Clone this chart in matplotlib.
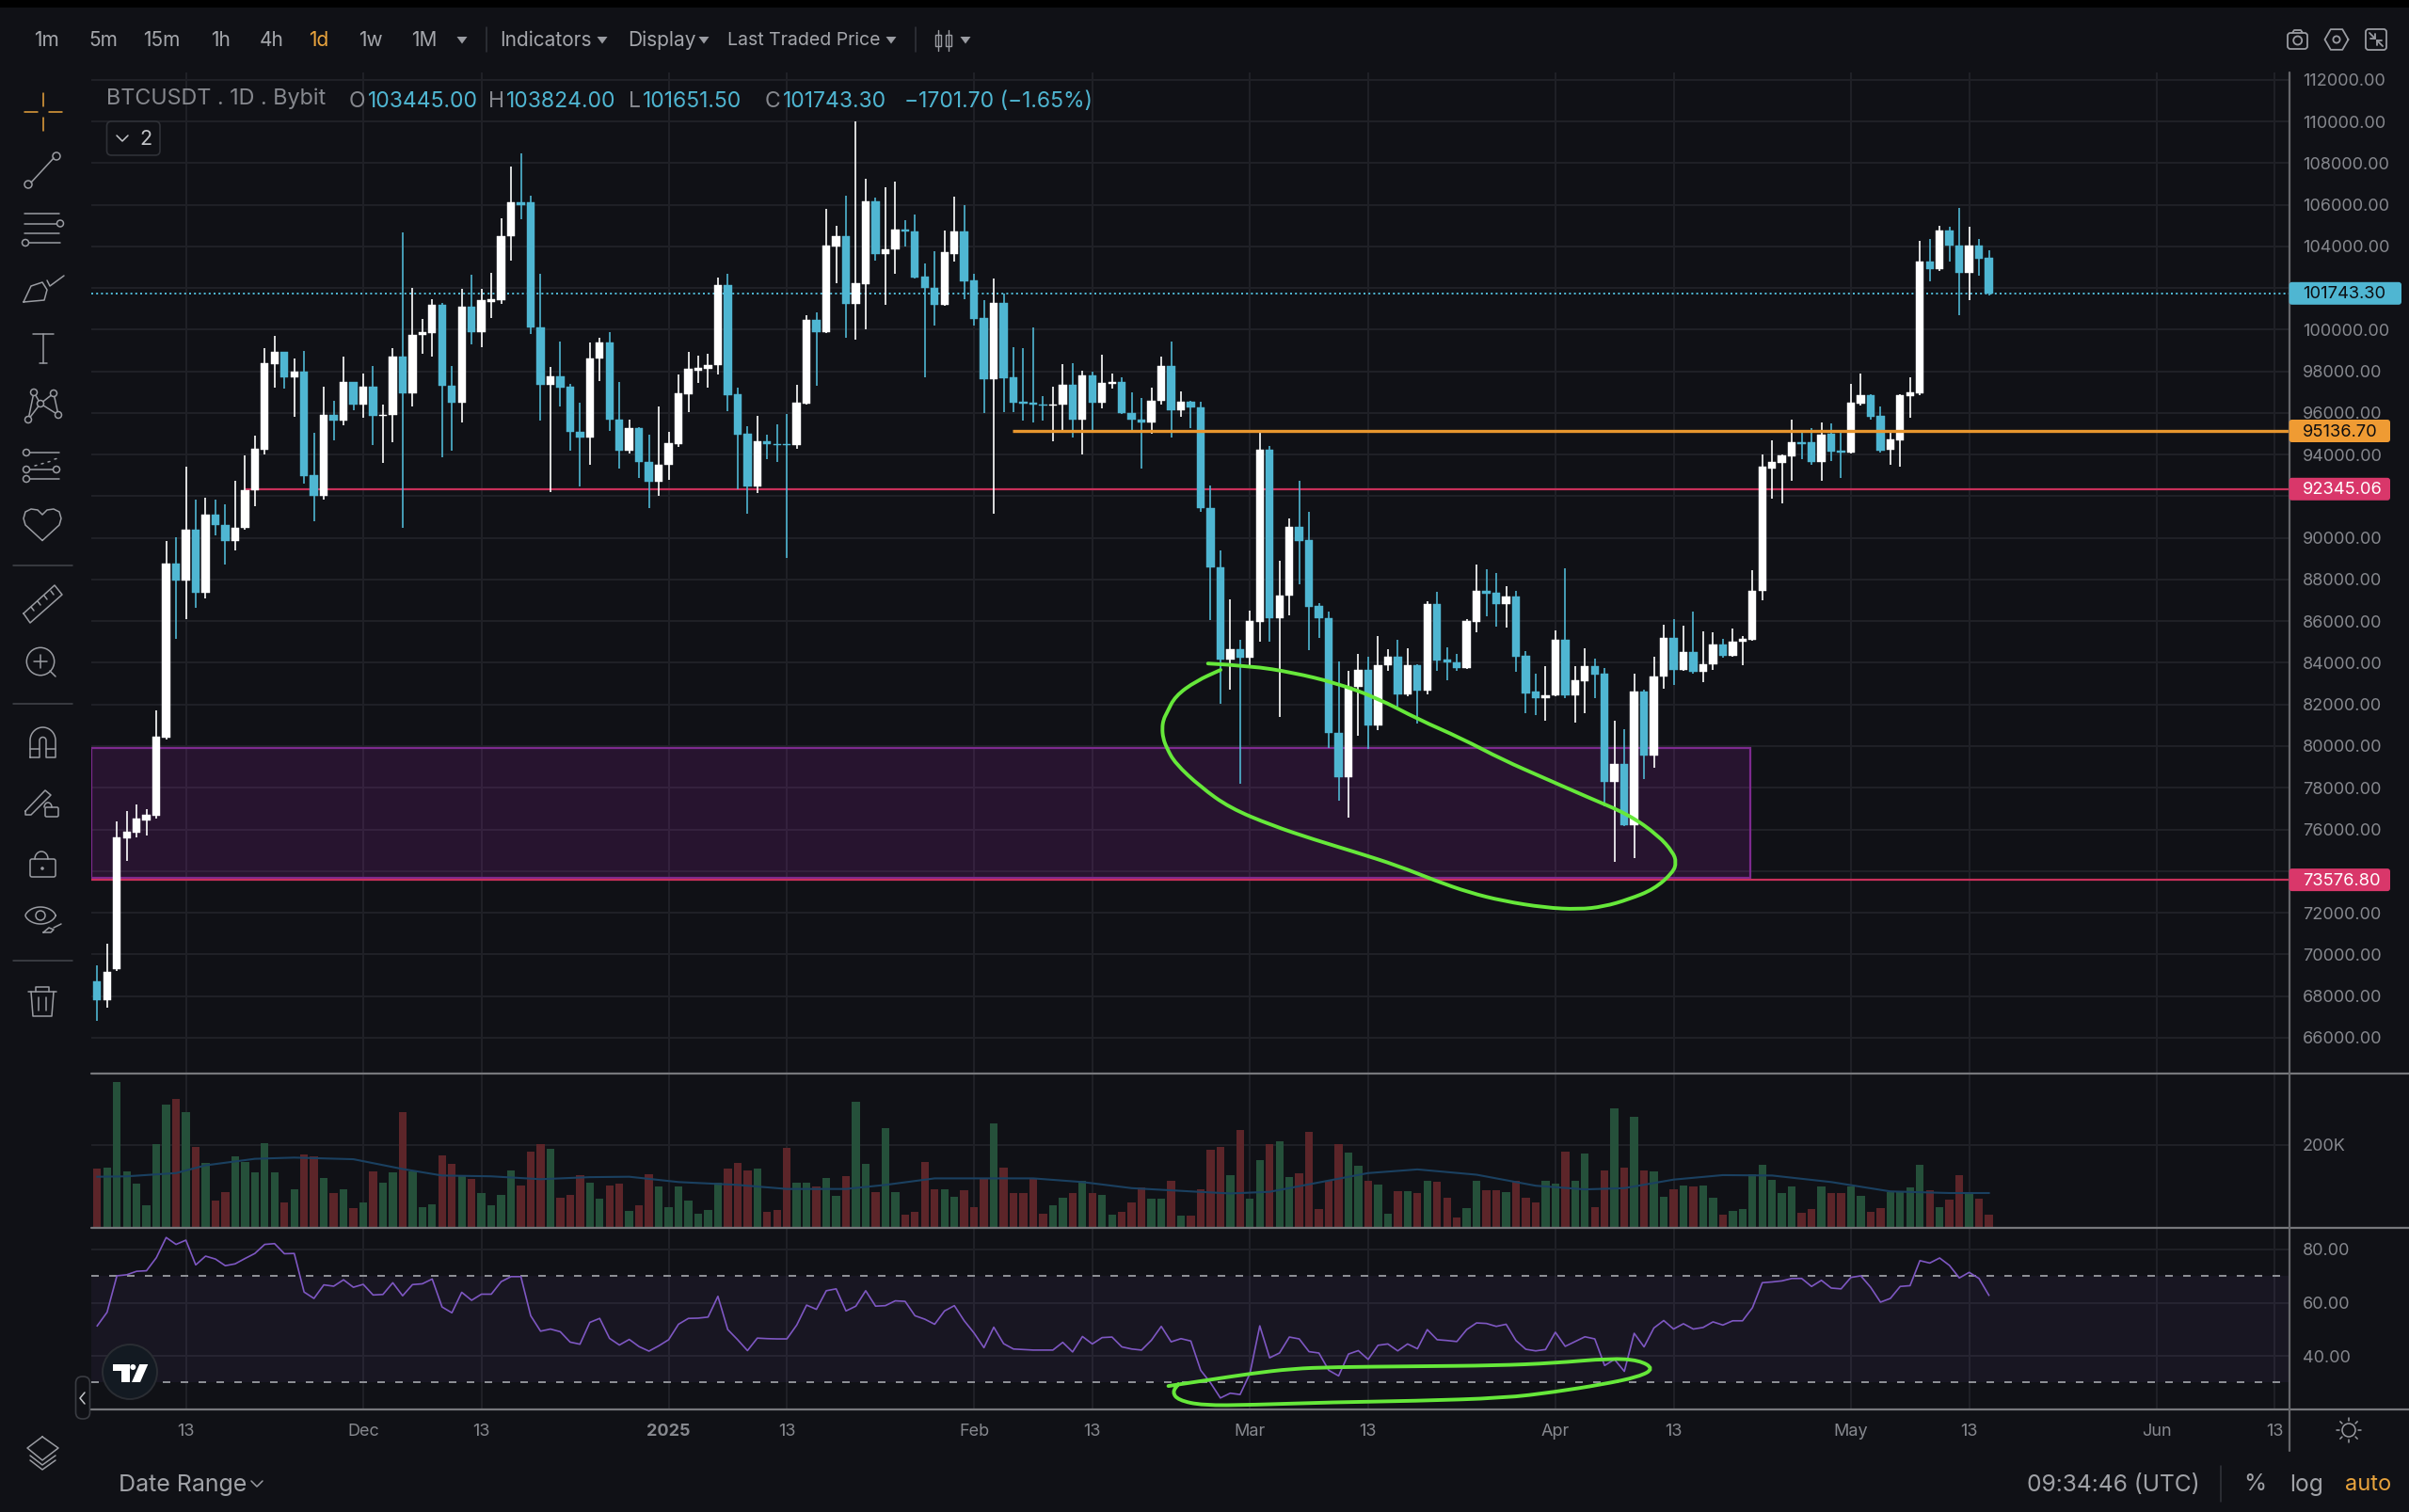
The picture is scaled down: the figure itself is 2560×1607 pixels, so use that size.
"""
BTCUSDT daily chart, Bybit terminal screenshot style.
Candles, volume with its moving average, RSI, level lines and hand drawn rings.
"""

import matplotlib
matplotlib.use("Agg")
import matplotlib.pyplot as plt
import numpy as np
from matplotlib.patches import Circle, FancyBboxPatch, PathPatch, Polygon, Rectangle
from matplotlib.path import Path

plt.rcParams["font.family"] = ["Inter", "DejaVu Sans"]

W, H = 2560, 1607

BG = "#101116"
GRID = "#1f2026"
LABEL = "#86888e"
ICON = "#9a9ca2"
UP = "#ffffff"
DOWN = "#4fb6d2"
ORANGE = "#ef9b33"
PINK = "#d9376a"
GREEN_INK = "#66e83a"

# Thousands of USD, one candle a day from 2024-11-04
opens = [
    68.7, 67.8, 69.3, 75.55, 75.85, 76.45, 76.65, 80.4, 88.75, 87.95,
    90.4, 87.35, 91.1, 90.6, 89.85, 90.5, 92.3, 94.25, 98.35, 98.95,
    97.7, 98.0, 93.0, 92.0, 95.9, 95.65, 97.5, 96.4, 97.25, 95.85,
    95.9, 98.7, 96.95, 99.75, 99.85, 101.2, 97.3, 96.5, 101.1, 99.9,
    101.35, 101.4, 104.5, 106.1, 106.1, 100.1, 97.35, 97.75, 97.25, 95.1,
    94.8, 98.6, 99.4, 95.7, 94.2, 95.25, 93.65, 92.7, 93.5, 94.5,
    96.9, 98.05, 98.1, 98.3, 102.15, 96.9, 95.0, 92.45, 94.65, 94.5,
    94.5, 94.45, 96.45, 100.45, 99.9, 104.0, 104.5, 101.25, 102.2, 106.15,
    103.65, 103.85, 104.8, 104.7, 102.55, 102.0, 101.2, 103.65, 104.7, 102.35,
    100.55, 97.6, 101.3, 97.7, 96.55, 96.5, 96.4, 96.35, 96.4, 97.35,
    95.7, 97.8, 96.5, 97.4, 97.5, 96.0, 95.7, 95.55, 96.6, 98.25,
    96.15, 96.55, 96.25, 91.45, 88.6, 84.15, 84.65, 84.25, 85.95, 94.25,
    86.15, 87.25, 90.55, 89.9, 86.75, 86.15, 80.65, 78.5, 82.85, 83.65,
    81.0, 83.9, 84.3, 82.5, 83.9, 82.65, 86.8, 84.15, 84.0, 83.75,
    85.95, 87.45, 87.35, 86.8, 87.2, 84.35, 82.6, 82.3, 82.45, 85.1,
    82.45, 83.1, 83.85, 83.5, 78.3, 79.15, 76.2, 82.6, 79.55, 83.35,
    85.2, 83.65, 84.5, 83.55, 83.95, 84.9, 84.35, 85.0, 85.1, 87.45,
    93.35, 93.6, 93.9, 94.6, 94.6, 93.65, 95.0, 94.2, 94.1, 96.45,
    96.85, 95.85, 94.25, 94.7, 96.8, 96.95, 103.25, 102.9, 104.75, 104.05,
    102.75, 104.05, 103.445,
]
closes = [
    67.8, 69.15, 75.6, 75.9, 76.5, 76.7, 80.45, 88.75, 87.95, 90.4,
    87.35, 91.1, 90.6, 89.85, 90.5, 92.3, 94.3, 98.4, 98.95, 97.7,
    98.0, 92.95, 92.0, 95.9, 95.65, 97.5, 96.4, 97.25, 95.85, 95.9,
    98.7, 96.95, 99.75, 99.9, 101.2, 97.3, 96.5, 101.1, 99.9, 101.4,
    101.45, 104.5, 106.1, 106.0, 100.1, 97.35, 97.75, 97.2, 95.1, 94.8,
    98.6, 99.4, 95.7, 94.2, 95.25, 93.65, 92.7, 93.5, 94.55, 96.95,
    98.1, 98.15, 98.3, 102.15, 96.85, 94.95, 92.45, 94.65, 94.5, 94.45,
    94.45, 96.5, 100.45, 99.9, 104.05, 104.5, 101.25, 102.25, 106.15, 103.65,
    103.85, 104.8, 104.7, 102.5, 102.0, 101.2, 103.7, 104.7, 102.3, 100.5,
    97.6, 101.3, 97.65, 96.5, 96.45, 96.4, 96.35, 96.4, 97.35, 95.7,
    97.8, 96.5, 97.45, 97.5, 96.0, 95.7, 95.55, 96.6, 98.25, 96.15,
    96.55, 96.25, 91.45, 88.6, 84.15, 84.65, 84.25, 86.0, 94.25, 86.15,
    87.25, 90.55, 89.85, 86.7, 86.15, 80.65, 78.5, 82.85, 83.65, 81.0,
    83.9, 84.3, 82.5, 83.9, 82.65, 86.8, 84.1, 84.0, 83.75, 86.0,
    87.45, 87.3, 86.8, 87.2, 84.3, 82.55, 82.3, 82.45, 85.1, 82.45,
    83.15, 83.85, 83.45, 78.3, 79.15, 76.2, 82.6, 79.55, 83.35, 85.2,
    83.65, 84.5, 83.55, 83.95, 84.9, 84.35, 85.0, 85.15, 87.45, 93.4,
    93.65, 93.95, 94.6, 94.5, 93.65, 94.95, 94.15, 94.1, 96.5, 96.85,
    95.8, 94.2, 94.75, 96.85, 97.0, 103.25, 102.9, 104.75, 104.05, 102.75,
    104.05, 103.4, 101.7433,
]
highs = [
    69.45, 70.5, 76.4, 76.9, 77.2, 76.95, 81.7, 89.85, 90.05, 93.4,
    91.85, 91.95, 91.85, 91.6, 92.75, 93.95, 94.9, 99.1, 99.7, 98.95,
    98.6, 99.0, 95.05, 97.25, 96.6, 98.7, 97.5, 97.9, 98.25, 96.4,
    99.1, 104.65, 102.0, 100.5, 101.45, 101.3, 98.25, 101.95, 102.65, 101.95,
    102.75, 105.35, 107.85, 108.45, 106.45, 102.7, 98.2, 99.45, 97.4, 96.5,
    99.4, 99.6, 99.9, 97.5, 95.7, 95.3, 94.95, 96.3, 95.1, 97.85,
    98.95, 98.75, 98.85, 102.5, 102.7, 97.2, 95.35, 95.85, 94.95, 95.45,
    95.95, 97.35, 100.7, 100.85, 105.8, 105.0, 106.45, 110.0, 107.25, 106.35,
    106.85, 107.1, 105.25, 105.55, 103.2, 103.75, 104.75, 106.4, 106.0, 102.7,
    101.4, 102.45, 101.75, 99.15, 99.1, 100.1, 96.8, 97.25, 98.35, 98.4,
    98.05, 98.0, 98.8, 97.9, 97.7, 97.0, 96.7, 97.2, 98.7, 99.45,
    97.05, 96.6, 96.55, 92.5, 89.4, 87.05, 85.1, 86.5, 95.05, 94.4,
    88.9, 90.95, 92.75, 91.25, 86.85, 86.45, 84.05, 83.6, 84.45, 84.3,
    85.3, 84.65, 85.1, 84.7, 83.95, 86.95, 87.4, 84.75, 84.45, 86.1,
    88.7, 88.5, 88.3, 87.7, 87.45, 84.55, 83.5, 83.85, 85.55, 88.55,
    83.85, 84.7, 84.2, 83.75, 81.2, 80.8, 83.5, 82.7, 84.3, 85.85,
    86.1, 85.8, 86.45, 85.5, 85.45, 85.15, 85.65, 85.3, 88.45, 94.0,
    94.7, 94.0, 95.7, 95.1, 95.25, 95.55, 95.5, 95.2, 97.4, 97.9,
    96.9, 96.3, 95.15, 96.9, 97.7, 104.25, 104.35, 105.0, 104.95, 105.85,
    104.95, 104.35, 103.824,
]
lows = [
    66.8, 67.45, 69.2, 74.5, 75.6, 75.7, 76.5, 80.3, 85.15, 86.1,
    86.65, 87.1, 90.1, 88.7, 89.4, 90.4, 91.5, 94.0, 97.2, 97.15,
    95.8, 92.6, 90.8, 91.85, 94.7, 95.4, 96.15, 95.75, 94.45, 93.6,
    94.6, 90.5, 96.3, 98.85, 98.7, 93.85, 94.2, 95.55, 99.3, 99.15,
    100.55, 101.25, 103.3, 105.3, 99.8, 95.65, 92.2, 96.3, 94.2, 92.45,
    93.5, 97.55, 95.15, 93.35, 94.05, 92.9, 91.45, 92.0, 92.8, 94.35,
    96.05, 97.45, 97.2, 97.85, 96.1, 92.35, 91.15, 92.15, 93.8, 93.65,
    89.05, 94.3, 96.4, 97.3, 99.85, 102.25, 99.6, 99.5, 100.0, 103.3,
    101.2, 102.7, 104.0, 102.45, 97.7, 100.2, 101.15, 103.25, 101.45, 100.2,
    96.0, 91.15, 96.05, 96.05, 95.65, 95.55, 95.65, 94.65, 95.15, 94.8,
    94.0, 95.15, 96.2, 97.15, 95.95, 95.15, 93.35, 95.0, 96.4, 94.8,
    95.8, 95.25, 91.25, 86.05, 82.05, 82.7, 78.2, 83.75, 85.0, 85.0,
    81.4, 86.3, 87.75, 84.6, 85.2, 79.9, 77.4, 76.55, 80.5, 79.85,
    80.75, 83.6, 81.9, 82.4, 81.1, 82.5, 83.6, 83.15, 83.6, 83.7,
    85.45, 86.25, 85.75, 85.7, 83.55, 81.6, 81.5, 81.2, 82.4, 82.3,
    81.15, 81.6, 82.3, 77.1, 74.45, 76.15, 74.6, 78.4, 78.95, 82.75,
    82.95, 83.6, 83.5, 83.05, 83.65, 84.25, 84.3, 83.9, 85.05, 87.0,
    91.9, 91.65, 92.75, 93.8, 93.5, 92.75, 93.7, 92.9, 94.05, 96.35,
    95.7, 94.1, 93.5, 93.4, 95.75, 96.85, 102.3, 102.8, 103.25, 100.7,
    101.4, 102.6, 101.6515,
]

# Thousands of contracts
volumes = [
    141, 144, 354, 136, 104, 53, 203, 300, 312, 280,
    195, 157, 63, 85, 173, 159, 132, 205, 133, 58,
    91, 177, 173, 118, 83, 92, 45, 58, 135, 107,
    132, 281, 135, 48, 55, 175, 153, 123, 116, 83,
    53, 78, 137, 101, 183, 201, 191, 71, 77, 125,
    107, 68, 101, 105, 38, 53, 129, 99, 48, 97,
    63, 32, 40, 108, 141, 157, 137, 141, 35, 40,
    192, 107, 107, 98, 118, 75, 123, 305, 153, 85,
    241, 85, 30, 35, 159, 92, 92, 72, 88, 48,
    120, 254, 145, 83, 83, 120, 31, 53, 71, 81,
    112, 83, 78, 28, 35, 58, 95, 67, 67, 113,
    26, 26, 91, 189, 195, 127, 237, 67, 163, 201,
    210, 121, 131, 231, 42, 112, 201, 181, 148, 112,
    102, 32, 86, 86, 83, 113, 109, 71, 23, 45,
    111, 88, 88, 85, 112, 71, 58, 111, 104, 183,
    113, 178, 47, 137, 289, 145, 268, 138, 135, 72,
    91, 100, 98, 101, 71, 29, 39, 42, 128, 152,
    115, 82, 98, 33, 42, 98, 83, 83, 98, 75,
    36, 46, 85, 85, 95, 152, 88, 48, 65, 125,
    85, 68, 28,
]
vol_ma_idx = [
    0, 3, 8, 11, 16, 20, 26, 31, 35, 40, 45, 50, 54, 59, 65, 70, 76, 80, 85, 90,
    95, 100, 105, 111, 115, 119, 124, 129, 134, 140, 146, 151, 155, 160, 165,
    170, 176, 182, 188, 192,
]
vol_ma = [
    122, 123, 131, 150, 166, 169, 165, 141, 125, 123, 116, 121, 122, 109, 102, 92,
    92, 102, 118, 118, 118, 109, 94, 86, 81, 85, 108, 131, 140, 127, 100, 91, 94,
    115, 126, 125, 109, 86, 82, 82,
]

rsi = [
    51.3, 56.4, 70.1, 70.5, 71.8, 72.0, 76.9, 84.5, 81.9, 83.5,
    74.2, 77.5, 76.4, 73.9, 74.6, 76.6, 78.5, 81.9, 82.2, 78.4,
    78.5, 64.0, 61.6, 66.7, 66.2, 68.6, 65.8, 66.9, 62.9, 63.1,
    67.5, 62.6, 66.8, 67.1, 68.9, 58.4, 56.2, 63.9, 60.9, 63.2,
    63.2, 67.9, 69.8, 69.8, 55.1, 49.3, 50.1, 49.1, 45.2, 44.4,
    52.6, 54.1, 46.6, 44.1, 46.2, 43.5, 41.8, 43.8, 46.1, 51.9,
    54.1, 54.2, 54.6, 62.4, 49.9, 46.1, 42.0, 46.7, 46.5, 46.4,
    46.4, 51.6, 59.1, 57.5, 64.5, 65.2, 56.9, 58.7, 64.5, 58.7,
    58.9, 60.7, 60.5, 55.1, 53.8, 51.9, 56.9, 58.9, 53.2, 48.6,
    43.1, 50.8, 44.6, 42.6, 42.4, 42.2, 42.2, 42.2, 45.1, 41.5,
    47.3, 44.5, 46.9, 47.1, 43.4, 42.6, 42.2, 45.9, 51.1, 45.3,
    46.5, 45.6, 34.6, 29.9, 24.2, 26.0, 25.5, 33.4, 51.3, 39.3,
    41.1, 47.1, 46.4, 41.6, 41.1, 34.6, 32.5, 40.7, 42.0, 38.7,
    44.0, 44.5, 41.9, 44.5, 42.7, 49.9, 46.1, 45.8, 45.4, 49.9,
    52.4, 52.2, 51.1, 51.9, 45.8, 42.5, 41.9, 42.4, 48.9, 43.6,
    45.4, 47.2, 46.4, 36.4, 38.7, 34.2, 48.5, 43.4, 50.5, 53.3,
    50.1, 52.1, 50.1, 50.7, 52.8, 51.6, 53.2, 53.2, 58.1, 67.5,
    67.8, 68.2, 69.1, 69.1, 66.1, 68.4, 65.5, 65.2, 69.5, 70.1,
    65.8, 60.2, 61.6, 66.1, 66.4, 75.8, 74.9, 76.8, 74.0, 69.3,
    71.4, 69.1, 62.8,
]

price_ticks = list(range(66000, 112001, 2000))
# these two sit right behind the level tags in the original
hidden_price_ticks = {74000, 92000}
vol_ticks = [200]
vol_tick_labels = ["200K"]
rsi_ticks = [40, 60, 80]
date_tick_idx = [9, 27, 39, 58, 70, 89, 101, 117, 129, 148, 160, 178, 190, 209, 221]
date_tick_labels = ["13", "Dec", "13", "2025", "13", "Feb", "13", "Mar", "13",
                    "Apr", "13", "May", "13", "Jun", "13"]

last_close = 101743.30
level_orange = 95136.70
level_red = 92345.06
level_low = 73576.80
orange_start_idx = 92.9
red_start_idx = 15.0
zone_end_idx = 167.8
zone_top = 79890
zone_bottom = 73680

# Hand drawn rings, (candle index, value)
ring_idx = [
    112.74, 117.09, 121.35, 125.62, 129.88, 134.14, 138.41, 142.67, 146.94, 151.2,
    155.46, 158.45, 159.94, 160.28, 159.94, 158.02, 155.46, 152.9, 150.35, 146.94,
    142.67, 139.26, 135.85, 132.01, 127.75, 123.48, 119.22, 114.96, 111.97, 109.41,
    108.56, 108.18, 108.09, 108.22, 108.56, 109.41, 111.54, 114.02,
]
ring_price = [
    83967, 83854, 83532, 83048, 82322, 81273, 80386, 79338, 78451, 77564,
    76709, 75708, 74902, 74418, 73934, 73128, 72644, 72289, 72160, 72241,
    72564, 72967, 73531, 74257, 74902, 75515, 76192, 77031, 78047, 79176,
    79902, 80386, 80870, 81273, 81596, 82402, 83128, 83660,
]
rsi_ring_idx = [
    108.72, 113.02, 117.16, 121.31, 125.45, 133.73, 142.01, 147.81, 153.61, 156.51,
    158.0, 156.51, 152.78, 147.81, 142.84, 133.73, 125.45, 117.16, 112.19, 109.71,
    109.13, 109.71,
]
rsi_ring_val = [
    28.7, 31.1, 33.4, 35.2, 35.8, 36.1, 36.4, 37.3, 39.1, 38.4,
    35.2, 32.2, 29.3, 26.4, 24.2, 23.1, 22.6, 21.6, 21.4, 23.4,
    26.4, 29.3,
]

assert all(len(s) == 193 for s in (opens, closes, highs, lows, volumes, rsi)), \
    [len(s) for s in (opens, closes, highs, lows, volumes, rsi)]

fig = plt.figure(figsize=(W / 100, H / 100), dpi=100, facecolor=BG)

AX_LEFT, AX_RIGHT = 97.0, 2432.6
IDX_MIN = (AX_LEFT - 103.3) / 10.47
IDX_MAX = (AX_RIGHT - 103.3) / 10.47


def pane(top, bottom):
    ax = fig.add_axes([AX_LEFT / W, 1 - bottom / H, (AX_RIGHT - AX_LEFT) / W, (bottom - top) / H])
    ax.set_facecolor("none")
    ax.set_xlim(IDX_MIN, IDX_MAX)
    for s in ax.spines.values():
        s.set_visible(False)
    ax.set_xticks(date_tick_idx)
    ax.tick_params(axis="both", length=0, labelcolor=LABEL, labelsize=13)
    ax.tick_params(axis="x", labelbottom=False)
    ax.yaxis.tick_right()
    ax.tick_params(axis="y", pad=10.4)
    ax.grid(True, color=GRID, lw=1.5)
    ax.set_axisbelow(True)
    return ax


def smooth_path(xs, ys, **kwargs):
    """Quadratic curve through the midpoints of the given points."""
    pts = np.column_stack([xs, ys])
    verts = [pts[0]]
    codes = [Path.MOVETO]
    for a, b in zip(pts[1:-1], pts[2:]):
        verts += [a, (a + b) / 2]
        codes += [Path.CURVE3, Path.CURVE3]
    verts.append(pts[-1])
    codes.append(Path.LINETO)
    return PathPatch(Path(np.array(verts), codes), fill=False, capstyle="round", **kwargs)


idx = np.arange(len(opens))
o = np.array(opens) * 1000
c = np.array(closes) * 1000
hi = np.array(highs) * 1000
lo = np.array(lows) * 1000
is_up = c >= o

# ---- price pane
ax_price = pane(77, 1141)
ax_price.set_ylim(106000 - (1141 - 217.6) / 0.02213, 106000 + (217.6 - 77) / 0.02213)
ax_price.set_yticks(price_ticks)
ax_price.set_yticklabels(["" if t in hidden_price_ticks else f"{t:.2f}" for t in price_ticks])

ax_price.add_patch(Rectangle((IDX_MIN, zone_bottom), zone_end_idx - IDX_MIN, zone_top - zone_bottom,
                             facecolor=(0.61, 0.15, 0.69, 0.17), edgecolor="#7d2a8e", lw=1.6, zorder=1.5))
ax_price.axhline(last_close, color=DOWN, lw=1.44, ls=(0, (1, 1.6)), zorder=1.6)
ax_price.hlines(level_orange, orange_start_idx, IDX_MAX, color="#e8962e", lw=2.4, zorder=4)
ax_price.hlines(level_red, red_start_idx, IDX_MAX, color="#c8305a", lw=1.6, zorder=1.7)
ax_price.axhline(level_low, color="#c8305a", lw=1.6, zorder=1.7)

colors = [UP if u else DOWN for u in is_up]
ax_price.vlines(idx, lo, hi, colors=colors, lw=1.2, zorder=3)
ax_price.bar(idx, np.maximum(np.abs(c - o), 60), bottom=np.minimum(o, c), width=0.8,
             color=colors, edgecolor=colors, lw=0.3, zorder=3.2)
ax_price.add_patch(smooth_path(ring_idx, ring_price, edgecolor=GREEN_INK, lw=2.8, zorder=6))

# ---- volume pane
ax_vol = pane(1141, 1303.5)
ax_vol.set_ylim(0, (1303.5 - 1141) / 86.6 * 200)
ax_vol.set_yticks(vol_ticks)
ax_vol.set_yticklabels(vol_tick_labels)
ax_vol.bar(idx, volumes, width=0.8, color=["#25503a" if u else "#5c2529" for u in is_up], zorder=2)
ax_vol.plot(vol_ma_idx, vol_ma, color="#1a4060", lw=1.5, zorder=3)

# ---- RSI pane
ax_rsi = pane(1304.7, 1497.7)
ax_rsi.set_ylim(20, 80 + (1328 - 1304.7) / 2.833)
ax_rsi.set_yticks(rsi_ticks)
ax_rsi.set_yticklabels([f"{t:.2f}" for t in rsi_ticks])
ax_rsi.axhspan(30, 70, color="#7e57c2", alpha=0.075, lw=0, zorder=1)
ax_rsi.axhline(70, color="#8c8e94", lw=1.44, ls=(0, (4, 5.5)), zorder=2)
ax_rsi.axhline(30, color="#8c8e94", lw=1.44, ls=(0, (4, 5.5)), zorder=2)
ax_rsi.plot(idx, rsi, color="#7e57c2", lw=1.2, zorder=3)
ax_rsi.add_patch(smooth_path(rsi_ring_idx, rsi_ring_val, edgecolor=GREEN_INK, lw=2.8, zorder=6))
ax_rsi.tick_params(axis="x", labelbottom=True, pad=11)
ax_rsi.set_xticklabels(date_tick_labels)
for lab, txt in zip(ax_rsi.get_xticklabels(), date_tick_labels):
    if txt == "2025":
        lab.set_fontweight("bold")

# ---- terminal chrome, in figure pixels
ax_ui = fig.add_axes([0, 0, 1, 1], facecolor="none")
ax_ui.set_xlim(0, W)
ax_ui.set_ylim(H, 0)
ax_ui.axis("off")


def stroke(xs, ys, color=ICON, lw=1.1):
    ax_ui.plot(xs, ys, color=color, lw=lw, solid_capstyle="round", solid_joinstyle="round")


def hollow(x, y, r, lw=1.1, color=ICON):
    ax_ui.add_patch(Circle((x, y), r, fill=False, edgecolor=color, lw=lw))


def caret(x, y=43):
    ax_ui.add_patch(Polygon([(x - 5.5, y - 4), (x + 5.5, y - 4), (x, y + 3.5)], facecolor=ICON, edgecolor="none"))


def label(x, y, s, color=LABEL, size=14.5, **kw):
    ax_ui.text(x, y, s, color=color, fontsize=size, va="center", ha=kw.pop("ha", "left"), **kw)


def axis_y(ax, value):
    return H - ax.transData.transform((0, value))[1]


def price_tag(value, text, face, fg, right):
    y = axis_y(ax_price, value)
    ax_ui.add_patch(FancyBboxPatch((AX_RIGHT, y - 12), right - AX_RIGHT, 24,
                                   boxstyle="round,pad=0,rounding_size=3", facecolor=face, edgecolor="none", zorder=5))
    label(2447, y + 1, text, color=fg, size=13.2, zorder=6)


ax_ui.add_patch(Rectangle((0, 0), W, 8, facecolor="black", edgecolor="none"))

# panel frames
for y in (1141, 1304.7, 1497.7):
    stroke([AX_LEFT, W], [y, y], color="#77787c", lw=1.6)
stroke([AX_RIGHT, AX_RIGHT], [77, 1542], color="#66676b", lw=1.6)

price_tag(last_close, "101743.30", DOWN, "#0c0d10", 2552)
price_tag(level_orange, "95136.70", ORANGE, "#0c0d10", 2540)
price_tag(level_red, "92345.06", PINK, "#ffffff", 2540)
price_tag(level_low, "73576.80", PINK, "#ffffff", 2540)

# top toolbar
intervals = [(36, "1m"), (94, "5m"), (152, "15m"), (224, "1h"), (276, "4h"), (328.5, "1d"), (381, "1w"), (437, "1M")]
for x, s in intervals:
    label(x, 43, s, color="#e8a33d" if s == "1d" else "#a4a6ab", size=15)
label(531, 43, "Indicators", color="#a4a6ab", size=15)
label(667, 43, "Display", color="#a4a6ab", size=15)
label(773, 43, "Last Traded Price", color="#a4a6ab", size=14)
for x in (491, 640, 748, 947, 1026):
    caret(x)
for x in (517, 973):
    stroke([x, x], [29, 55], color="#33353b")
for x in (997, 1008):
    stroke([x, x], [32, 54], lw=1.0)
    ax_ui.add_patch(Rectangle((x - 3, 37), 6, 12, fill=False, edgecolor=ICON, lw=1.0))

# legend
label(113, 105, "BTCUSDT . 1D . Bybit", size=16.8)
ohlc_parts = [(371, "O", LABEL), (391, "103445.00", DOWN), (519, "H", LABEL), (538, "103824.00", DOWN),
              (668, "L", LABEL), (683, "101651.50", DOWN), (813, "C", LABEL), (832, "101743.30", DOWN),
              (961, "\u22121701.70 (\u22121.65%)", DOWN)]
for x, s, col in ohlc_parts:
    label(x, 108, s, color=col, size=16.5)
ax_ui.add_patch(FancyBboxPatch((113.5, 129), 56.5, 36, boxstyle="round,pad=0,rounding_size=5",
                               facecolor=BG, edgecolor="#2f3137", lw=1.2))
stroke([124, 130, 136], [144, 150, 144], color="#c4c6ca")
label(148, 148, "2", color="#c4c6ca", size=15.5)

# left toolbar
for seg in ([26, 40], [52, 66]):
    stroke(seg, [119, 119], color="#e8a33d")
for seg in ([99, 113], [125, 139]):
    stroke([46, 46], seg, color="#e8a33d")

stroke([33, 57], [194, 168])
hollow(30, 196, 4)
hollow(60, 166, 4)

stroke([26, 63], [227, 227])
stroke([26, 60], [237.5, 237.5])
hollow(64, 237.5, 3.5)
stroke([26, 63], [248, 248])
stroke([31, 64], [258, 258])
hollow(27, 258, 3.5)

stroke([25, 33, 45, 50, 47, 25], [321, 304, 300, 308, 319, 321])
stroke([50, 53, 68], [298, 304, 293])

stroke([35, 57], [354.6, 354.6])
stroke([45.7, 45.7], [354.6, 386])
stroke([42, 50], [386, 386])

nodes = {"a": (30, 446), "b": (36, 417), "c": (43, 429), "d": (57, 418), "e": (62, 441)}
for p, q in ("ab", "bc", "ac", "cd", "de", "ce"):
    stroke([nodes[p][0], nodes[q][0]], [nodes[p][1], nodes[q][1]])
for x, y in nodes.values():
    ax_ui.add_patch(Circle((x, y), 3.5, facecolor=BG, edgecolor=ICON, lw=1.1, zorder=3))

for y, x0 in ((481, 32), (499, 32), (509, 30)):
    stroke([x0, 63], [y, y])
for x, y in ((28, 481), (28, 499), (60, 499), (28, 509)):
    ax_ui.add_patch(Circle((x, y), 3.5, facecolor=BG, edgecolor=ICON, lw=1.1, zorder=3))
for x, y in ((37, 495), (44, 493), (51, 491), (58, 488)):
    stroke([x, x + 2], [y, y - 0.5])

stroke([45, 27, 25, 27, 33, 40, 45, 50, 57, 63, 65, 63, 45],
       [574.5, 558, 551, 544, 541, 542, 547, 542, 541, 544, 551, 558, 574.5])

for y in (600.5, 747.5, 1021):
    stroke([14, 77], [y, y], color="#44464c")

stroke([25, 58, 66, 32, 25], [652, 622, 632, 662, 652])
for x, y in ((33, 645), (40, 639), (47, 633), (54, 628)):
    stroke([x, x + 3], [y, y + 4])

hollow(43, 703, 14.7)
stroke([36, 50], [703, 703])
stroke([43, 43], [696, 710])
stroke([53, 59], [713, 719])

t = np.linspace(np.pi, 2 * np.pi, 30)
stroke(np.r_[32, 45.5 + 13.5 * np.cos(t), 59, 49, 45.5 + 3.5 * np.cos(t[::-1]), 42, 32],
       np.r_[805, 787 + 14 * np.sin(t), 805, 805, 787 + 3.5 * np.sin(t[::-1]), 805, 805])
stroke([32, 42], [796, 796])
stroke([49, 59], [796, 796])

stroke([27, 48, 54, 33, 27, 27], [862, 840, 845, 866, 866, 862])
ax_ui.add_patch(FancyBboxPatch((48, 858), 14, 10, boxstyle="round,pad=0,rounding_size=1.5",
                               fill=False, edgecolor=ICON, lw=1.1))
stroke(51 + 4 * np.cos(t), 858 + 5 * np.sin(t))

ax_ui.add_patch(FancyBboxPatch((32, 913), 27, 19, boxstyle="round,pad=0,rounding_size=2",
                               fill=False, edgecolor=ICON, lw=1.1))
stroke(44 + 7 * np.cos(t), 913 + 8 * np.sin(t))
ax_ui.add_patch(Circle((45, 923), 1.8, facecolor=ICON, edgecolor="none"))

e = np.linspace(0, 2 * np.pi, 60)
stroke(43 + 16 * np.cos(e), 973 + 9 * np.abs(np.sin(e)) ** 1.3 * np.sign(np.sin(e)))
hollow(43, 973, 5)
stroke([46, 52, 57, 54, 46], [991, 986, 988, 991, 991])
stroke([57, 65], [986, 982])

stroke([30, 60], [1054, 1054])
stroke([33, 35, 55, 57], [1054, 1080, 1080, 1054])
stroke([38, 38, 52, 52], [1054, 1049, 1049, 1054])
stroke([41, 41], [1060, 1074])
stroke([49, 49], [1060, 1074])

stroke([45, 62, 45, 29, 45], [1527, 1539, 1552, 1539, 1527])
stroke([32, 45, 59], [1547, 1557, 1547])
stroke([32, 45, 59], [1552, 1562, 1552])

# collapse tab and logo
ax_ui.add_patch(FancyBboxPatch((80.5, 1463), 15, 45, boxstyle="round,pad=0,rounding_size=7",
                               facecolor=BG, edgecolor="#3a3c42", lw=1.2))
stroke([90, 85, 90], [1480, 1486, 1492], color="#c4c6ca")
ax_ui.add_patch(Circle((138, 1458), 29, facecolor="#131a22", edgecolor="#2a2d33", lw=1.4))
ax_ui.add_patch(Polygon([(120, 1450), (138.3, 1450), (138.3, 1469), (129.3, 1469), (129.3, 1457.3), (120, 1457.3)],
                        facecolor="white", edgecolor="none"))
ax_ui.add_patch(Circle((141.3, 1453), 3, facecolor="white", edgecolor="none"))
ax_ui.add_patch(Polygon([(148.3, 1450), (157.3, 1450), (149, 1469), (140, 1469)], facecolor="white", edgecolor="none"))

# top right icons
ax_ui.add_patch(FancyBboxPatch((2431, 35), 21, 17, boxstyle="round,pad=0,rounding_size=3",
                               fill=False, edgecolor=ICON, lw=1.3))
stroke([2436, 2438, 2445, 2447], [35, 32, 32, 35], lw=1.3)
hollow(2441.7, 43, 4.5, lw=1.3)
hx = 2483 + 12.5 * np.cos(np.arange(7) * np.pi / 3)
hy = 42 + 12.5 * np.sin(np.arange(7) * np.pi / 3)
stroke(hx, hy, lw=1.3)
hollow(2483, 42, 3.6, lw=1.3)
ax_ui.add_patch(FancyBboxPatch((2514, 31), 22, 22, boxstyle="round,pad=0,rounding_size=3",
                               fill=False, edgecolor=ICON, lw=1.3))
stroke([2518, 2524], [35, 41], lw=1.3)
stroke([2524, 2524, 2519], [36, 41, 41], lw=1.3)
stroke([2532, 2526], [49, 43], lw=1.3)
stroke([2526, 2526, 2531], [48, 43, 43], lw=1.3)

# bottom bar
label(126, 1578, "Date Range", color="#a0a2a7", size=18)
stroke([267, 273, 279], [1574, 1580, 1574])
label(2154, 1578, "09:34:46 (UTC)", color="#a0a2a7", size=17.7)
stroke([2360, 2360], [1558, 1596], color="#33353b")
label(2384, 1578, "%", color="#a0a2a7", size=17.7)
label(2433, 1578, "log", color="#a0a2a7", size=17.7)
label(2492, 1578, "auto", color="#e8a33d", size=17)
hollow(2496, 1520, 7)
for a in np.arange(8) * np.pi / 4:
    stroke([2496 + 10 * np.cos(a), 2496 + 13 * np.cos(a)], [1520 + 10 * np.sin(a), 1520 + 13 * np.sin(a)])

fig.savefig("out.png", dpi=100, facecolor=BG)
